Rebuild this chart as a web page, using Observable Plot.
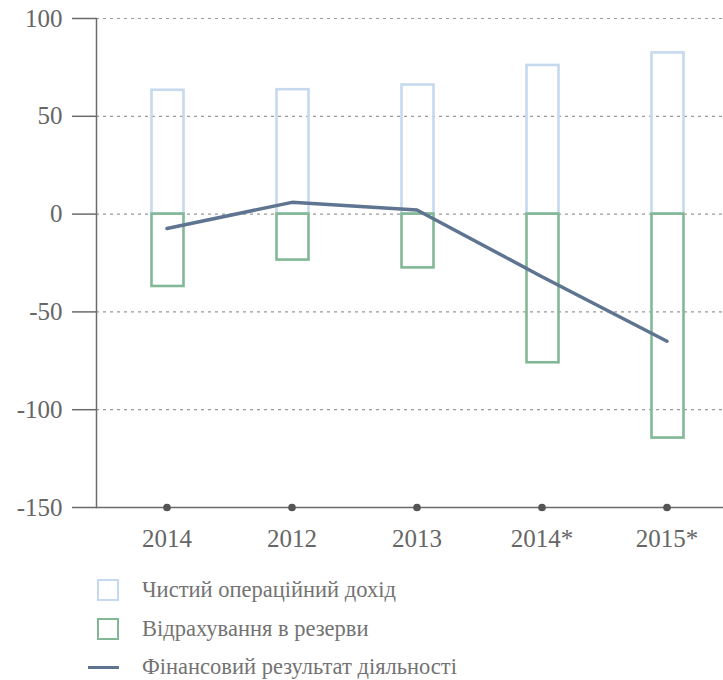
<!DOCTYPE html>
<html>
<head>
<meta charset="utf-8">
<script src="https://cdn.jsdelivr.net/npm/d3@7"></script>
<script src="https://cdn.jsdelivr.net/npm/@observablehq/plot@0.6"></script>
</head>
<body style="margin:0;background:#fff;font-family:'Times New Roman',Times,serif">
<div id="chart" style="width:723px;"></div>
<script>
const categories = ["2014", "2012", "2013", "2014*", "2015*"];
const income = [63.3, 63.6, 66, 76, 82.4];
const provisions = [-37, -23.5, -27.5, -76, -114.5];
const result = [-7.4, 6, 2.1, -32, -65];
const yTicks = [-150, -100, -50, 0, 50, 100];
const seriesNames = ["Чистий операційний дохід", "Відрахування в резерви", "Фінансовий результат діяльності"];
const colors = ["#c6d9ee", "#82b896", "#5e7491"];

const rows = categories.map((c, i) => ({cat: c, income: income[i], prov: provisions[i], res: result[i]}));
const FONT = "'Times New Roman', Times, serif";

const plot = Plot.plot({
  width: 723,
  height: 560,
  marginTop: 18,
  marginBottom: 53,
  marginLeft: 96,
  marginRight: 0,
  style: {fontFamily: FONT, background: "#fff"},
  x: {type: "band", domain: categories, range: [102.1, 730.9], padding: 0},
  y: {domain: [-150, 100], range: [507, 18]},
  marks: [
    Plot.gridY(yTicks.filter(d => d > -150), {stroke: "#9a9a9a", strokeOpacity: 1, strokeDasharray: "3,4", strokeWidth: 1.2}),
    Plot.ruleY([-150], {stroke: "#6b6b6b", strokeWidth: 1.5}),
    Plot.frame({anchor: "left", stroke: "#6b6b6b", strokeWidth: 1.5}),
    Plot.axisY({ticks: yTicks, tickFormat: d => String(d), tickSize: 24, tickPadding: 10, fontSize: 25, fill: "#666", stroke: "#6b6b6b", strokeWidth: 1.5, label: null}),
    Plot.axisX({tickSize: 0, tickPadding: 22, fontSize: 25, fill: "#666", label: null}),
    Plot.rectY(rows, {x: "cat", y1: 0, y2: "income", fill: "none", stroke: colors[0], strokeWidth: 2.6, insetLeft: 47.5, insetRight: 45.5}),
    Plot.rectY(rows, {x: "cat", y1: 0, y2: "prov", fill: "none", stroke: colors[1], strokeWidth: 2.6, insetLeft: 47.5, insetRight: 45.5}),
    Plot.line(rows, {x: "cat", y: "res", stroke: colors[2], strokeWidth: 3.5}),
    Plot.dot(rows, {x: "cat", y: () => -150, r: 3.8, fill: "#555", stroke: "none"})
  ]
});
document.getElementById("chart").appendChild(plot);

const legend = document.createElement("div");
legend.style.cssText = "font-size:22.5px;color:#737373;margin-top:11px;font-family:'Times New Roman',Times,serif;";
seriesNames.forEach((name, i) => {
  const row = document.createElement("div");
  row.style.cssText = "display:flex;align-items:center;height:38.5px;";
  const m = document.createElement("div");
  if (i < 2) {
    m.style.cssText = `width:18px;height:18px;margin-left:97px;margin-right:23px;border:2.6px solid ${colors[i]};`;
  } else {
    m.style.cssText = `width:31px;height:3px;margin-left:88px;margin-right:23px;background:${colors[2]};`;
  }
  row.appendChild(m);
  const t = document.createElement("span");
  t.textContent = name;
  row.appendChild(t);
  legend.appendChild(row);
});
document.getElementById("chart").appendChild(legend);
</script>
</body>
</html>
